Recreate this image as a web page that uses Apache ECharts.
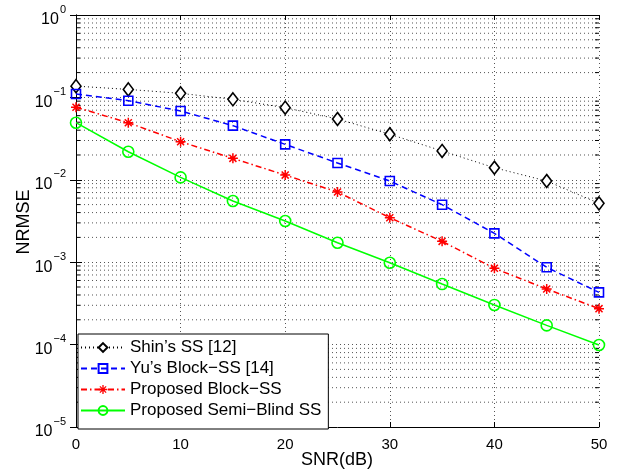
<!DOCTYPE html>
<html>
<head>
<meta charset="utf-8">
<script src="https://cdn.jsdelivr.net/npm/echarts@6/dist/echarts.min.js"></script>
<style>
  html, body { margin: 0; padding: 0; background: #fff; }
  #chart { width: 617px; height: 473px; }
</style>
</head>
<body>
<div id="chart"></div>
<script>
// SNR sweep (dB)
const snr = [0, 5, 10, 15, 20, 25, 30, 35, 40, 45, 50];

// NRMSE of each estimator
const shinSS = [0.137, 0.125, 0.112, 0.0948, 0.075, 0.0547, 0.0357, 0.0224, 0.014, 0.00967, 0.00518];
const yuBlockSS = [0.110, 0.0912, 0.0684, 0.0454, 0.0269, 0.016, 0.00967, 0.00499, 0.00224, 0.000867, 0.00043];
const proposedBlockSS = [0.0759, 0.0493, 0.029, 0.0182, 0.0114, 0.00711, 0.00347, 0.00179, 0.000843, 0.000473, 0.000273];
const proposedSemiBlind = [0.0493, 0.0219, 0.0107, 0.00553, 0.00316, 0.00172, 0.000986, 0.000543, 0.000303, 0.000171, 0.0000989];

const seriesNames = ["Shin\u2019s SS [12]", "Yu\u2019s Block\u2212SS [14]", "Proposed Block\u2212SS", "Proposed Semi\u2212Blind SS"];

// Decade limits of the NRMSE axis
const yMin = 1e-5;
const yMax = 1;

// Minor gridline values: 2..9 within each decade
const minorValues = [];
for (let e = -5; e < 0; e++) {
  for (let m = 2; m <= 9; m++) minorValues.push([0, m * Math.pow(10, e)]);
}

const FONT = "Liberation Sans, Arial, Helvetica, sans-serif";
const dotted = { type: [1, 3], color: '#555', width: 1 };

function pairs(ys) { return snr.map((x, i) => [x, ys[i]]); }

// Asterisk marker (plus + cross), drawn as filled bars
const asterisk = 'path://M8.5 0L11.5 0L11.5 20L8.5 20Z M0 8.5L20 8.5L20 11.5L0 11.5Z ' +
  'M4 1.9L18.1 16L16 18.1L1.9 4Z M1.9 16L16 1.9L18.1 4L4 18.1Z';

const chart = echarts.init(document.getElementById('chart'), null, { renderer: 'canvas' });

chart.setOption({
  animation: false,
  backgroundColor: '#fff',
  textStyle: { fontFamily: FONT },
  grid: { left: 76, top: 15, right: 18, bottom: 46 },
  xAxis: [
    {
      type: 'value', min: 0, max: 50, interval: 10,
      axisLine: { lineStyle: { color: '#000', width: 1 } },
      axisTick: { inside: true, length: 5, lineStyle: { color: '#000' } },
      axisLabel: { fontSize: 15, color: '#000', margin: 10, fontFamily: FONT },
      splitLine: { show: true, lineStyle: dotted }
    },
    {
      type: 'value', min: 0, max: 50, interval: 10, position: 'top',
      axisLine: { lineStyle: { color: '#000', width: 1 } },
      axisTick: { inside: true, length: 5, lineStyle: { color: '#000' } },
      axisLabel: { show: false },
      splitLine: { show: false }
    }
  ],
  yAxis: [
    {
      type: 'log', logBase: 10, min: yMin, max: yMax,
      axisLine: { show: true, lineStyle: { color: '#000', width: 1 } },
      axisTick: { show: true, inside: true, length: 6, lineStyle: { color: '#000' } },
      axisLabel: {
        color: '#000', margin: 10, fontFamily: FONT,
        formatter: function (v) {
          const e = Math.round(Math.log10(v));
          const exp = e < 0 ? '\u2212' + (-e) : String(e);
          return '{b|10}{e|' + exp + '}';
        },
        rich: {
          b: { fontSize: 16, color: '#000', fontFamily: FONT, padding: [10, 0, 0, 0] },
          e: { fontSize: 11, color: '#000', fontFamily: FONT, padding: [0, 0, 11, 1] }
        }
      },
      splitLine: { show: true, lineStyle: dotted }
    },
    {
      type: 'log', logBase: 10, min: yMin, max: yMax, position: 'right',
      axisLine: { show: true, lineStyle: { color: '#000', width: 1 } },
      axisTick: { show: true, inside: true, length: 6, lineStyle: { color: '#000' } },
      axisLabel: { show: false },
      splitLine: { show: false }
    }
  ],
  legend: {
    orient: 'vertical',
    left: 78, top: 334,
    padding: [3, 7, 8, 2],
    itemGap: 0,
    itemWidth: 44, itemHeight: 11,
    backgroundColor: '#fff',
    borderColor: '#000', borderWidth: 1, borderRadius: 0,
    textStyle: { fontSize: 17, lineHeight: 21, color: '#000', fontFamily: FONT },
    data: seriesNames
  },
  graphic: [
    {
      type: 'text', x: 337, y: 460,
      style: { text: 'SNR(dB)', font: '18px ' + FONT, fill: '#000', align: 'center', verticalAlign: 'middle' },
      z: 10
    },
    {
      type: 'text', rotation: Math.PI / 2, x: 24, y: 222,
      style: { text: 'NRMSE', font: '18px ' + FONT, fill: '#000', align: 'center', verticalAlign: 'middle' },
      z: 10
    }
  ],
  series: [
    {
      // minor gridlines and minor ticks on both vertical edges
      type: 'custom', silent: true, z: 0, clip: false,
      xAxisIndex: 0, yAxisIndex: 0,
      data: minorValues,
      renderItem: function (params, api) {
        const cs = params.coordSys;
        const p = api.coord([0, api.value(1)]);
        const y = p[1];
        return {
          type: 'group',
          children: [
            { type: 'line', shape: { x1: cs.x, y1: y, x2: cs.x + cs.width, y2: y }, style: { stroke: dotted.color, lineWidth: 1, lineDash: dotted.type } },
            { type: 'line', shape: { x1: cs.x, y1: y, x2: cs.x + 4, y2: y }, style: { stroke: '#000', lineWidth: 1 } },
            { type: 'line', shape: { x1: cs.x + cs.width - 4, y1: y, x2: cs.x + cs.width, y2: y }, style: { stroke: '#000', lineWidth: 1 } }
          ]
        };
      }
    },
    {
      name: seriesNames[0], type: 'line', data: pairs(shinSS), z: 5,
      symbol: 'diamond', symbolSize: [10, 13],
      lineStyle: { color: '#000', width: 1, type: [1, 3] },
      itemStyle: { color: '#fff', borderColor: '#000', borderWidth: 1.6 }
    },
    {
      name: seriesNames[1], type: 'line', data: pairs(yuBlockSS), z: 6,
      symbol: 'rect', symbolSize: 9,
      lineStyle: { color: '#0000ff', width: 1.5, type: [6, 4] },
      itemStyle: { color: 'rgba(255,255,255,0)', borderColor: '#0000ff', borderWidth: 1.6 }
    },
    {
      name: seriesNames[2], type: 'line', data: pairs(proposedBlockSS), z: 7,
      symbol: asterisk, symbolSize: 10,
      lineStyle: { color: '#ff0000', width: 1.5, type: [6, 3, 1.5, 3] },
      itemStyle: { color: '#ff0000', borderColor: '#ff0000', borderWidth: 0 }
    },
    {
      name: seriesNames[3], type: 'line', data: pairs(proposedSemiBlind), z: 8,
      symbol: 'circle', symbolSize: 11,
      lineStyle: { color: '#00ff00', width: 1.5, type: 'solid' },
      itemStyle: { color: 'rgba(255,255,255,0)', borderColor: '#00ff00', borderWidth: 1.6 }
    }
  ]
});
</script>
</body>
</html>
